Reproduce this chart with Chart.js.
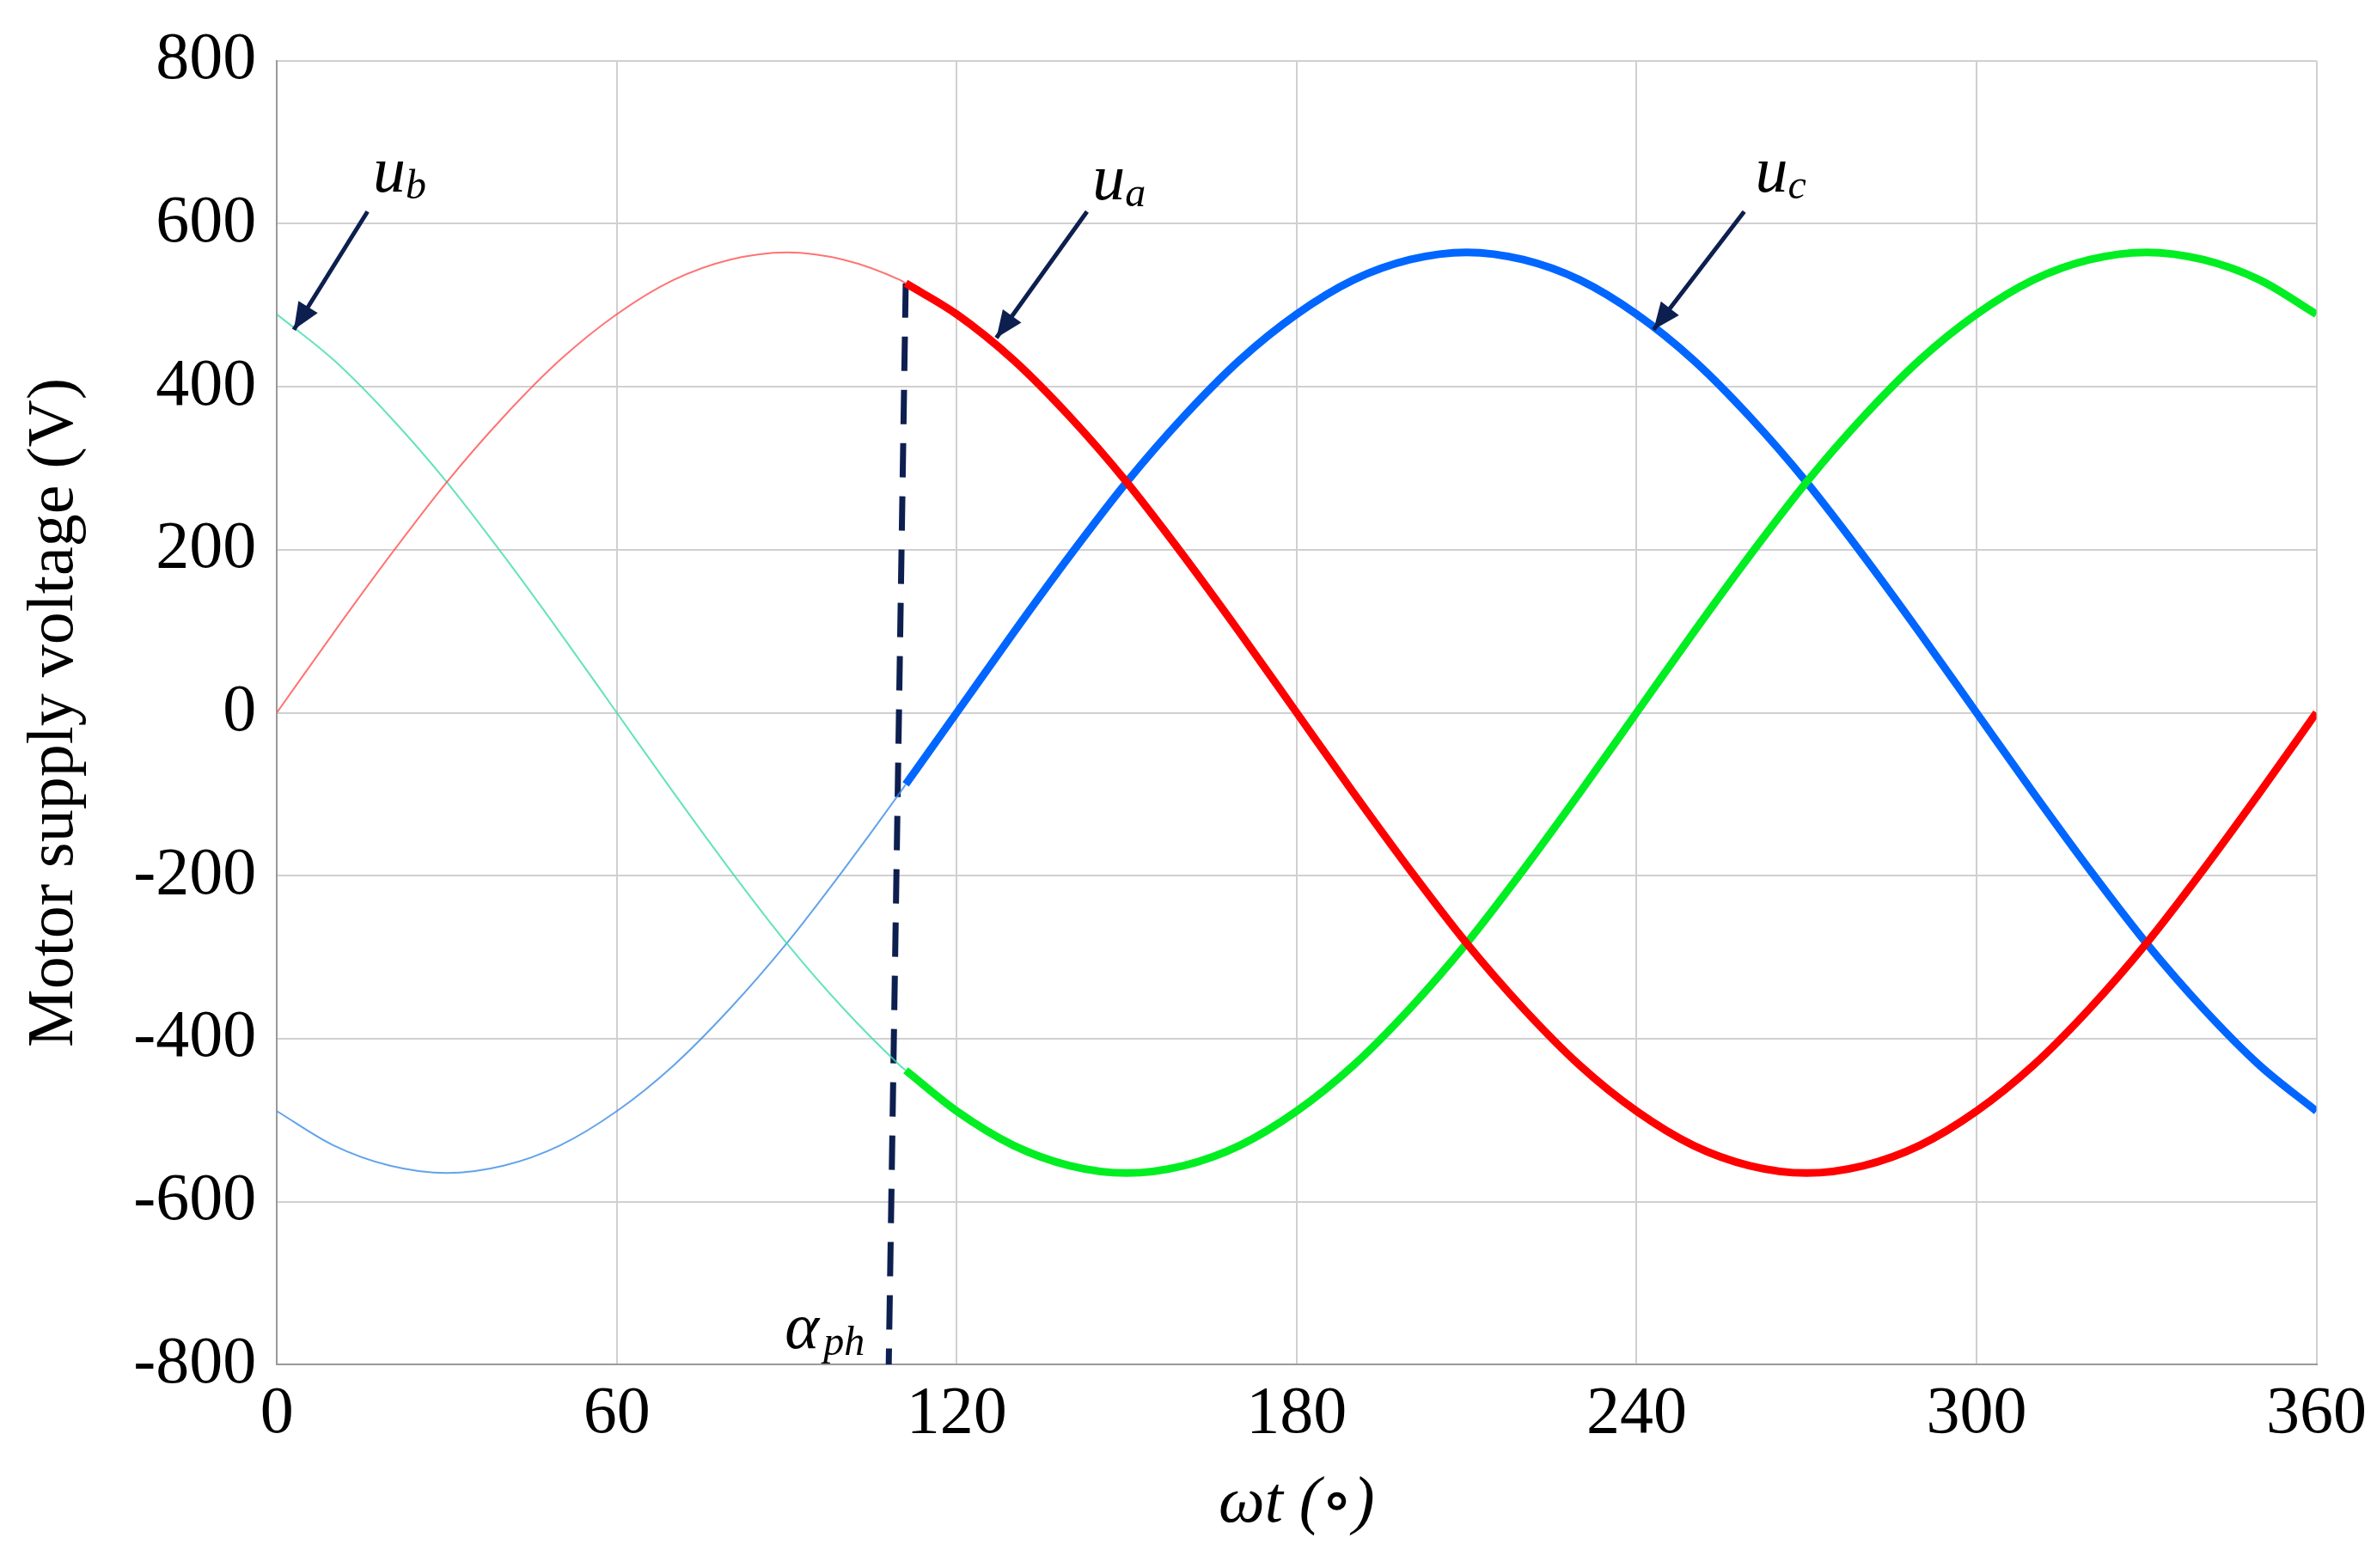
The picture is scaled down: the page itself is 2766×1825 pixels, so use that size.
<!DOCTYPE html>
<html><head><meta charset="utf-8">
<script src="https://cdn.jsdelivr.net/npm/chart.js@4/dist/chart.umd.min.js"></script>
<style>body{margin:0;background:#fff}</style>
</head><body>
<canvas id="c" width="2766" height="1825"></canvas>
<script>
// values, every 10 degrees (plus the switch point 111)
const angles = [0,10,20,30,40,50,60,70,80,90,100,110,111,120,130,140,150,160,170,180,190,200,210,220,230,240,250,260,270,280,290,300,310,320,330,340,350,360];
const ua = [0,98,193,283,363,433,489,531,556,565,556,531,527,489,433,363,283,193,98,0,-98,-193,-283,-363,-433,-489,-531,-556,-565,-556,-531,-489,-433,-363,-283,-193,-98,0];
const ub = [489,433,363,283,193,98,0,-98,-193,-283,-363,-433,-439,-489,-531,-556,-565,-556,-531,-489,-433,-363,-283,-193,-98,0,98,193,283,363,433,489,531,556,565,556,531,489];
const uc = [-489,-531,-556,-565,-556,-531,-489,-433,-363,-283,-193,-98,-88,0,98,193,283,363,433,489,531,556,565,556,531,489,433,363,283,193,98,0,-98,-193,-283,-363,-433,-489];
const switchAngle = 111;
const firingLine = [{x:111,y:527},{x:108,y:-800}];
const xTicks = [0,60,120,180,240,300,360];

const pts = (arr, from, to) => angles.map((a,i)=>({x:a,y:arr[i]})).filter(p=>p.x>=from && p.x<=to);
const serif = '"Liberation Serif", "DejaVu Serif", serif';

function line(data, color, w) {
  return { data, borderColor: color, borderWidth: w, pointRadius: 0, cubicInterpolationMode: 'monotone', fill: false };
}

const labels = [
  { name:'b', tx:20, ty:640, from:[16,615], to:[3,470] },
  { name:'a', tx:147, ty:630, from:[143,615], to:[127,460] },
  { name:'c', tx:264, ty:640, from:[259,615], to:[243,470] }
];

const annot = {
  id: 'annot',
  afterDatasetsDraw(chart) {
    const c = chart.ctx, x = chart.scales.x, y = chart.scales.y;
    c.save();
    c.fillStyle = '#000';
    c.strokeStyle = '#0d1f4f';
    labels.forEach(l => {
      const px = x.getPixelForValue(l.tx), py = y.getPixelForValue(l.ty);
      c.font = 'italic 76px ' + serif;
      c.textAlign = 'left'; c.textBaseline = 'alphabetic';
      c.fillText('u', px - 20, py);
      c.font = 'italic 48px ' + serif;
      c.fillText(l.name, px + 18, py + 8);
      const x1 = x.getPixelForValue(l.from[0]), y1 = y.getPixelForValue(l.from[1]);
      const x2 = x.getPixelForValue(l.to[0]), y2 = y.getPixelForValue(l.to[1]);
      c.lineWidth = 5;
      c.beginPath(); c.moveTo(x1,y1); c.lineTo(x2,y2); c.stroke();
      const ang = Math.atan2(y2-y1, x2-x1), L = 34;
      c.fillStyle = '#0d1f4f';
      c.beginPath(); c.moveTo(x2,y2);
      c.lineTo(x2 - L*Math.cos(ang-0.4), y2 - L*Math.sin(ang-0.4));
      c.lineTo(x2 - L*Math.cos(ang+0.4), y2 - L*Math.sin(ang+0.4));
      c.closePath(); c.fill();
      c.fillStyle = '#000';
    });
    const ax = x.getPixelForValue(98), ay = y.getPixelForValue(-780);
    c.font = 'italic 76px ' + serif;
    c.textAlign = 'left';
    c.fillText('\u03B1', ax - 55, ay);
    c.font = 'italic 48px ' + serif;
    c.fillText('ph', ax - 10, ay + 8);
    c.restore();
  }
};

new Chart(document.getElementById('c'), {
  type: 'line',
  data: {
    datasets: [
      line(pts(ua,0,switchAngle), 'rgba(255,80,80,0.8)', 2),
      line(pts(ub,0,switchAngle), 'rgba(60,220,170,0.8)', 2),
      line(pts(uc,0,switchAngle), 'rgba(60,140,230,0.8)', 2),
      line(pts(ua,switchAngle,360), '#ff0000', 9),
      line(pts(ub,switchAngle,360), '#00ee22', 9),
      line(pts(uc,switchAngle,360), '#0066ff', 9),
      { data: firingLine, borderColor:'#0d1f4f', borderWidth:7, borderDash:[40,22], pointRadius:0, tension:0 }
    ]
  },
  options: {
    responsive: false, animation: false, devicePixelRatio: 1,
    layout: { padding: { top: 45, right: 69, left: 14, bottom: 24 } },
    plugins: { legend: { display: false }, tooltip: { enabled: false } },
    scales: {
      x: {
        type: 'linear', min: 0, max: 360,
        afterBuildTicks: ax => { ax.ticks = xTicks.map(v => ({ value: v })); },
        grid: { color: '#d0d0d0', lineWidth: 2, drawTicks: false },
        border: { color: '#999', width: 2 },
        ticks: { color: '#000', font: { family: serif, size: 78 }, padding: 12 },
        title: { display: true, text: '\u03C9t (\u2218)', color: '#000', font: { family: serif, size: 76, style: 'italic' }, padding: { top: 0 } }
      },
      y: {
        min: -800, max: 800,
        ticks: { stepSize: 200, color: '#000', font: { family: serif, size: 78 }, padding: 24 },
        grid: { color: '#d0d0d0', lineWidth: 2, drawTicks: false },
        border: { color: '#999', width: 2 },
        title: { display: true, text: 'Motor supply voltage (V)', color: '#000', font: { family: serif, size: 76 }, padding: { bottom: 22 } }
      }
    }
  },
  plugins: [annot]
});
</script>
</body></html>
